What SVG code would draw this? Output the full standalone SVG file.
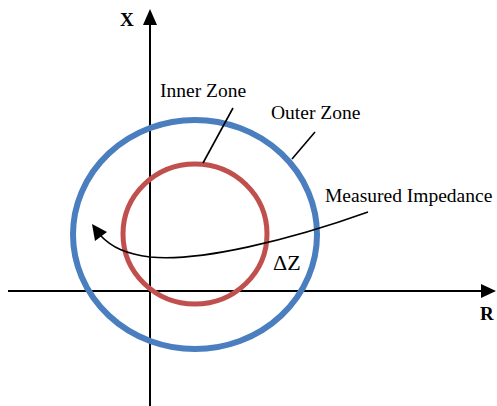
<svg xmlns="http://www.w3.org/2000/svg" width="497" height="406" viewBox="0 0 497 406">
<style>
.t{font-family:"Liberation Serif","Times New Roman",serif;fill:#000;}
.axis{stroke:#000;stroke-width:2;fill:none;}
.lead{stroke:#000;stroke-width:1.6;fill:none;}
</style>
<rect width="497" height="406" fill="#fff"/>
<g id="axes">
<line class="axis" x1="150" y1="24" x2="150" y2="406"/>
<polygon points="150,9 143,25 157,25" fill="#000"/>
<line class="axis" x1="8" y1="291" x2="482" y2="291"/>
<polygon points="496,291 481,284 481,298" fill="#000"/>
<text class="t" x="120" y="26" font-size="19" font-weight="bold">X</text>
<text class="t" x="480" y="320" font-size="19" font-weight="bold">R</text>
</g>
<g id="outer-zone">
<ellipse cx="195" cy="234.5" rx="122" ry="114.5" fill="none" stroke="#4A7EBF" stroke-width="6"/>
</g>
<g id="inner-zone">
<ellipse cx="195" cy="234" rx="72" ry="70" fill="none" stroke="#C0504D" stroke-width="5"/>
</g>
<g id="connectors">
<line class="lead" x1="233" y1="108" x2="203" y2="163"/>
<line class="lead" x1="315" y1="132" x2="292" y2="159"/>
<path class="lead" d="M368,212 C290,240 200,262 150,257 C127,254 112,248 100,235" stroke-width="2"/>
<polygon points="92,224 95,241 107,232" fill="#000"/>
</g>
<g id="labels">
<text class="t" x="160" y="97" font-size="19.5">Inner Zone</text>
<text class="t" x="271" y="119" font-size="19.5">Outer Zone</text>
<text class="t" x="325" y="202" font-size="19.5">Measured Impedance</text>
<text class="t" x="273" y="270" font-size="22">ΔZ</text>
</g>
</svg>
